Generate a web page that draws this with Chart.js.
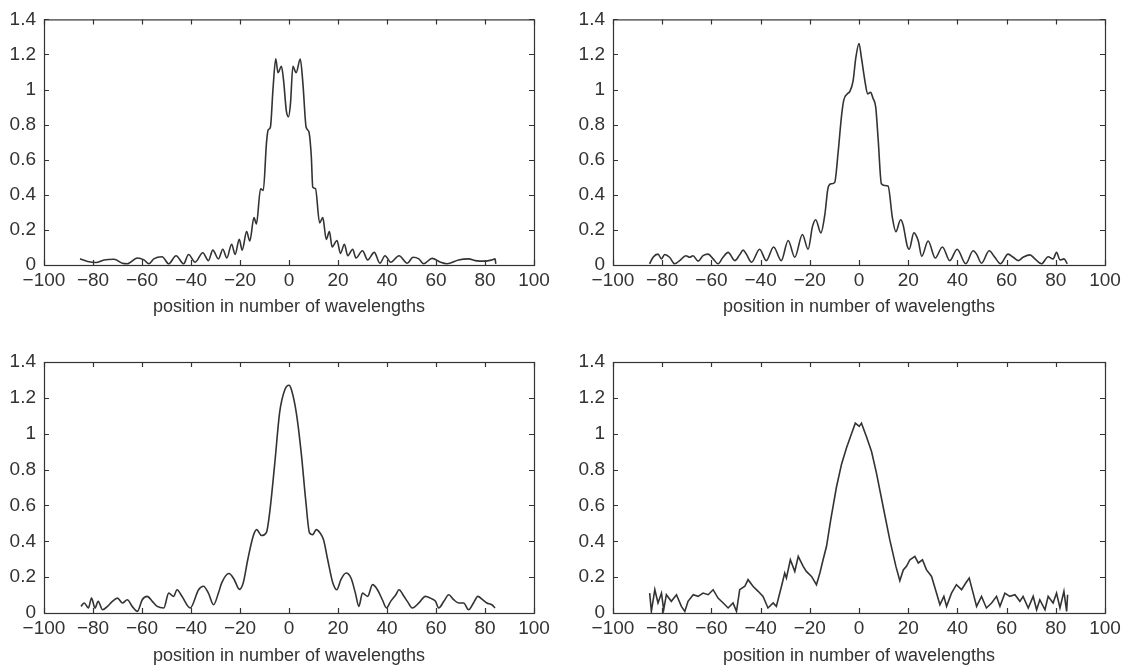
<!DOCTYPE html>
<html><head><meta charset="utf-8">
<script src="https://cdn.jsdelivr.net/npm/chart.js@4.4.1/dist/chart.umd.min.js"></script>
<style>
html,body{margin:0;padding:0;background:#fff;}
#wrap{position:relative;width:1133px;height:672px;overflow:hidden;}
.cell{position:absolute;}
canvas{display:block;}
</style></head><body>
<div id="wrap">
<div class="cell" style="left:0;top:0;width:566px;height:336px"><canvas id="c1" width="566" height="336"></canvas></div>
<div class="cell" style="left:566px;top:0;width:567px;height:336px"><canvas id="c2" width="567" height="336"></canvas></div>
<div class="cell" style="left:0;top:336px;width:566px;height:336px"><canvas id="c3" width="566" height="336"></canvas></div>
<div class="cell" style="left:566px;top:336px;width:567px;height:336px"><canvas id="c4" width="567" height="336"></canvas></div>
</div>
<script>
// ---- tick labels and title ----
const xTickLabels = ['\u2212100','\u221280','\u221260','\u221240','\u221220','0','20','40','60','80','100'];
const yTickLabels = ['0','0.2','0.4','0.6','0.8','1','1.2','1.4'];
const xTitle = 'position in number of wavelengths';

// ---- plot 1 (top left) ----
const p1x = [-85.3,-82.2,-78.8,-75.5,-71.4,-68.0,-66.0,-61.9,-59.2,-57.2,-55.2,-51.8,-49.1,-46.1,-43.0,-41.0,-38.3,-35.2,-32.9,-31.1,-28.8,-27.0,-25.4,-23.4,-22.0,-20.3,-19.1,-17.3,-16.0,-14.3,-13.3,-11.6,-10.5,-9.2,-8.5,-7.6,-6.5,-5.4,-4.5,-3.1,-2.2,-1.1,-0.2,0.6,1.6,2.9,4.6,5.7,7.0,8.1,9.1,9.7,10.8,12.5,13.8,15.2,16.5,17.6,19.6,21.0,22.6,24.0,26.0,27.3,30.0,32.1,34.8,37.1,39.2,41.5,44.9,48.3,50.6,53.0,55.0,58.4,61.8,64.5,69.2,73.3,76.0,80.1,82.8,84.1,84.4];
const p1y = [0.035,0.02,0.014,0.029,0.033,0.01,0.007,0.04,0.029,0.007,0.035,0.047,0.007,0.053,0.007,0.06,0.016,0.07,0.025,0.085,0.035,0.09,0.04,0.118,0.06,0.146,0.085,0.19,0.137,0.27,0.234,0.435,0.425,0.695,0.77,0.785,1.01,1.176,1.096,1.133,1.05,0.88,0.845,0.92,1.133,1.096,1.174,1.03,0.785,0.76,0.62,0.444,0.435,0.24,0.27,0.146,0.19,0.103,0.14,0.066,0.118,0.053,0.09,0.04,0.081,0.029,0.072,0.01,0.053,0.016,0.053,0.01,0.044,0.035,0.007,0.038,0.016,0.007,0.029,0.035,0.025,0.022,0.029,0.035,0.007];

// ---- plot 2 (top right) ----
const p2x = [-85.1,-83.7,-81.7,-80.3,-79.0,-77.0,-74.9,-72.9,-70.4,-68.8,-67.5,-65.4,-63.4,-61.3,-59.3,-57.3,-55.3,-53.2,-50.5,-48.5,-47.1,-45.8,-43.7,-40.4,-37.7,-34.7,-31.6,-28.8,-26.1,-23.0,-20.7,-18.9,-17.6,-15.5,-13.9,-12.5,-11.2,-9.9,-8.5,-7.1,-6.2,-4.8,-3.7,-2.4,-1.3,0.0,1.0,2.4,3.5,4.7,5.7,6.8,7.8,9.1,10.5,11.8,13.6,15.0,16.9,17.9,19.6,20.4,22.3,24.1,25.5,28.1,31.0,33.9,36.9,39.9,43.4,46.4,47.8,49.8,52.9,55.2,57.5,60.6,62.7,64.7,66.7,69.5,71.5,74.2,76.9,78.9,80.3,81.7,83.3,84.7];
const p2y = [0.007,0.044,0.062,0.035,0.06,0.044,0.007,0.025,0.053,0.044,0.053,0.022,0.053,0.062,0.035,0.007,0.044,0.072,0.025,0.058,0.085,0.062,0.016,0.09,0.025,0.103,0.025,0.14,0.044,0.174,0.09,0.22,0.258,0.183,0.286,0.445,0.463,0.47,0.64,0.85,0.94,0.975,0.99,1.05,1.18,1.263,1.18,1.05,0.975,0.984,0.95,0.9,0.714,0.463,0.453,0.45,0.267,0.19,0.258,0.23,0.109,0.09,0.183,0.137,0.05,0.137,0.04,0.103,0.025,0.09,0.007,0.081,0.062,0.01,0.081,0.044,0.007,0.062,0.044,0.025,0.044,0.058,0.035,0.007,0.047,0.035,0.072,0.029,0.035,0.007];

// ---- plot 3 (bottom left) ----
const p3x = [-84.9,-83.6,-81.9,-80.6,-79.2,-77.9,-76.1,-74.1,-72.1,-70.0,-68.0,-66.0,-64.0,-61.9,-59.9,-57.9,-55.8,-53.8,-51.1,-49.1,-47.1,-45.7,-43.7,-40.3,-36.9,-34.9,-32.9,-30.8,-28.8,-27.5,-24.5,-22.5,-20.2,-18.7,-16.8,-14.6,-13.2,-11.2,-9.2,-7.8,-5.8,-3.8,-1.7,0.0,1.0,3.0,5.0,6.8,8.4,9.7,11.1,12.7,14.1,15.8,17.9,19.5,21.2,23.3,25.3,27.1,28.5,30.0,32.1,34.1,36.1,38.1,39.8,41.5,43.6,44.9,46.9,48.3,50.3,53.0,55.7,57.7,59.8,61.1,63.2,65.2,67.2,69.3,71.3,73.3,75.3,77.1,79.0,80.7,82.8,84.1];
const p3y = [0.037,0.056,0.028,0.083,0.028,0.065,0.018,0.037,0.065,0.083,0.056,0.074,0.037,0.009,0.074,0.093,0.065,0.037,0.028,0.111,0.093,0.13,0.093,0.028,0.13,0.149,0.111,0.046,0.111,0.167,0.22,0.19,0.132,0.167,0.3,0.43,0.465,0.432,0.45,0.57,0.836,1.12,1.245,1.27,1.245,1.115,0.892,0.632,0.446,0.437,0.465,0.446,0.409,0.297,0.167,0.13,0.186,0.223,0.195,0.111,0.037,0.111,0.093,0.158,0.13,0.074,0.028,0.065,0.102,0.13,0.093,0.065,0.028,0.056,0.093,0.083,0.065,0.028,0.065,0.102,0.074,0.056,0.056,0.018,0.056,0.093,0.074,0.056,0.046,0.028];

// ---- plot 4 (bottom right) ----
const p4x = [-85.1,-84.4,-83.0,-81.7,-80.3,-79.4,-78.3,-76.3,-74.2,-72.2,-70.8,-69.5,-67.4,-65.4,-63.4,-61.3,-59.3,-57.3,-55.2,-53.2,-51.2,-49.8,-48.5,-46.4,-45.1,-43.1,-41.0,-39.0,-37.0,-34.9,-33.6,-31.5,-30.2,-29.5,-27.9,-26.1,-24.7,-22.7,-21.4,-19.3,-17.3,-15.9,-14.6,-13.2,-11.5,-9.2,-7.1,-5.1,-3.3,-1.5,0.1,1.0,3.0,5.1,7.1,9.8,12.5,15.0,16.6,18.0,19.3,20.7,22.7,24.1,25.8,27.4,29.5,31.5,32.9,34.5,35.6,37.6,39.6,41.7,43.4,44.8,46.4,47.8,49.8,51.8,53.9,55.9,57.3,59.3,61.3,63.4,65.4,66.7,68.8,70.8,72.2,73.5,75.6,76.9,78.9,80.3,81.7,83.3,84.4,84.8];
const p4y = [0.111,0.009,0.13,0.056,0.111,0.018,0.102,0.065,0.102,0.037,0.009,0.065,0.102,0.093,0.111,0.102,0.13,0.083,0.056,0.028,0.056,0.009,0.13,0.149,0.186,0.149,0.121,0.093,0.028,0.056,0.037,0.149,0.223,0.195,0.297,0.232,0.316,0.26,0.232,0.204,0.158,0.223,0.297,0.372,0.52,0.7,0.83,0.92,0.99,1.059,1.041,1.059,0.985,0.901,0.78,0.594,0.409,0.26,0.18,0.24,0.26,0.297,0.316,0.279,0.297,0.242,0.204,0.111,0.046,0.093,0.037,0.111,0.158,0.13,0.167,0.195,0.111,0.037,0.093,0.028,0.056,0.093,0.037,0.111,0.093,0.102,0.065,0.093,0.028,0.093,0.018,0.074,0.018,0.093,0.056,0.111,0.028,0.121,0.009,0.102];

const FONT = '"Liberation Sans", Arial, Helvetica, sans-serif';
const INK = '#333333';

const boxPlugin = {
  id: 'matlabBox',
  afterDraw(chart) {
    const { ctx, chartArea: a, scales } = chart;
    const xs = scales.x, ys = scales.y;
    ctx.save();
    ctx.strokeStyle = INK;
    ctx.lineWidth = 1.2;
    ctx.strokeRect(a.left + 0.5, a.top + 0.5, a.right - a.left, a.bottom - a.top);
    const L = 5;
    ctx.beginPath();
    xs.ticks.forEach(t => {
      const px = Math.round(xs.getPixelForValue(t.value)) + 0.5;
      ctx.moveTo(px, a.bottom); ctx.lineTo(px, a.bottom - L);
      ctx.moveTo(px, a.top); ctx.lineTo(px, a.top + L);
    });
    ys.ticks.forEach(t => {
      const py = Math.round(ys.getPixelForValue(t.value)) + 0.5;
      ctx.moveTo(a.left, py); ctx.lineTo(a.left + L, py);
      ctx.moveTo(a.right, py); ctx.lineTo(a.right - L, py);
    });
    ctx.stroke();
    ctx.restore();
  }
};

function build(id, xs, ys, box, smooth) {
  const cv = document.getElementById(id);
  const W = cv.width, H = cv.height;
  const pts = xs.map((x, i) => ({ x: x, y: ys[i] }));
  const ds = { data: pts, borderColor: INK, borderWidth: 1.6, pointRadius: 0, fill: false };
  if (smooth) ds.cubicInterpolationMode = 'monotone';
  return new Chart(cv.getContext('2d'), {
    type: 'line',
    data: { datasets: [ds] },
    options: {
      responsive: false, animation: false, devicePixelRatio: 1,
      plugins: { legend: { display: false }, tooltip: { enabled: false } },
      layout: { padding: { left: 0, top: box.top, right: W - box.right, bottom: H - box.titleBottom } },
      scales: {
        x: {
          type: 'linear', min: -100, max: 100,
          grid: { display: false, drawTicks: false }, border: { display: false },
          ticks: { stepSize: 20, autoSkip: false, maxRotation: 0, padding: 4, color: INK,
                   font: { family: FONT, size: 19 }, callback: (v, i) => xTickLabels[i] },
          title: { display: true, text: xTitle, color: INK, font: { family: FONT, size: 18 }, padding: { top: 0, bottom: 0 } },
          afterFit: s => { s.height = box.titleBottom - box.bottom; }
        },
        y: {
          type: 'linear', min: 0, max: 1.4,
          grid: { display: false, drawTicks: false }, border: { display: false },
          ticks: { stepSize: 0.2, padding: 8, color: INK, font: { family: FONT, size: 19 },
                   callback: (v, i) => yTickLabels[i] },
          afterFit: s => { s.width = box.left; }
        }
      }
    },
    plugins: [boxPlugin]
  });
}

build('c1', p1x, p1y, { left: 44, top: 14, right: 534, bottom: 265, titleBottom: 318 }, true);
build('c2', p2x, p2y, { left: 47, top: 14, right: 539, bottom: 265, titleBottom: 318 }, true);
build('c3', p3x, p3y, { left: 44, top: 26, right: 534, bottom: 277, titleBottom: 331 }, true);
build('c4', p4x, p4y, { left: 47, top: 26, right: 539, bottom: 277, titleBottom: 331 }, false);
</script>
</body></html>
